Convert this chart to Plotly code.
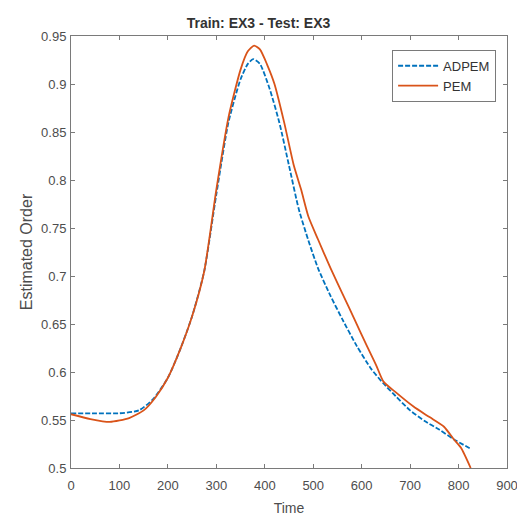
import plotly.graph_objects as go

# ADPEM series
t_adpem = [0, 50, 100, 140, 170, 200, 225, 250, 275, 300, 325, 350, 365, 376, 390, 410,
           430, 450, 470, 490, 510, 535, 560, 590, 620, 645, 670, 700, 730, 760, 790, 825]
v_adpem = [0.557, 0.557, 0.557, 0.560, 0.572, 0.594, 0.623, 0.658, 0.705, 0.785, 0.86, 0.905,
           0.921, 0.926, 0.921, 0.895, 0.86, 0.815, 0.77, 0.737, 0.708, 0.68, 0.655, 0.627,
           0.603, 0.588, 0.575, 0.560, 0.549, 0.540, 0.530, 0.520]

# PEM series
t_pem = [0, 40, 80, 120, 150, 175, 200, 225, 250, 275, 300, 325, 350, 365, 378, 390, 405,
         420, 440, 460, 475, 490, 510, 535, 560, 585, 610, 630, 645, 670, 707, 740, 770, 790,
         805, 825]
v_pem = [0.556, 0.551, 0.548, 0.552, 0.560, 0.574, 0.594, 0.623, 0.658, 0.705, 0.79, 0.865,
         0.915, 0.934, 0.940, 0.936, 0.92, 0.90, 0.86, 0.815, 0.79, 0.762, 0.738, 0.709, 0.682,
         0.655, 0.628, 0.607, 0.590, 0.579, 0.564, 0.553, 0.543, 0.530, 0.521, 0.500]

x_ticks = [0, 100, 200, 300, 400, 500, 600, 700, 800, 900]
y_ticks = [0.5, 0.55, 0.6, 0.65, 0.7, 0.75, 0.8, 0.85, 0.9, 0.95]
y_tick_text = ["0.5", "0.55", "0.6", "0.65", "0.7", "0.75", "0.8", "0.85", "0.9", "0.95"]

fig = go.Figure()
fig.add_trace(go.Scatter(x=t_adpem, y=v_adpem, mode="lines", name="ADPEM",
                         line=dict(color="#0072BD", width=1.8, dash="5px,2px", shape="spline", smoothing=0.6)))
fig.add_trace(go.Scatter(x=t_pem, y=v_pem, mode="lines", name="PEM",
                         line=dict(color="#D95319", width=1.8, shape="spline", smoothing=0.6)))

font = "Liberation Sans, Arial, sans-serif"
axis_common = dict(showgrid=False, zeroline=False, showline=True, linecolor="#7a7a7a",
                   linewidth=1, mirror="ticks", ticks="inside", ticklen=4, tickcolor="#7a7a7a",
                   automargin=False, ticklabeloverflow="allow",
                   tickfont=dict(family=font, size=13, color="#4d4d4d"))

fig.update_layout(
    width=517, height=516,
    margin=dict(l=71, r=10, t=36, b=48),
    paper_bgcolor="white", plot_bgcolor="white",
    title=dict(text="<b>Train: EX3 - Test: EX3</b>", x=0.5, xanchor="center", y=0.955, yanchor="middle",
               font=dict(family=font, size=14, color="#333333")),
    xaxis=dict(range=[0, 900], tickvals=x_ticks, ticklabelstandoff=5,
               title=dict(text="Time", font=dict(family=font, size=14, color="#4d4d4d"), standoff=12),
               **axis_common),
    yaxis=dict(range=[0.5, 0.95], tickvals=y_ticks, ticktext=y_tick_text, ticklabelstandoff=1,
               title=dict(text="Estimated Order", font=dict(family=font, size=16, color="#4d4d4d"), standoff=4),
               **axis_common),
    legend=dict(x=0.975, y=0.968, xanchor="right", yanchor="top", bgcolor="white",
                bordercolor="#7a7a7a", borderwidth=1,
                font=dict(family=font, size=13, color="#333333"),
                tracegroupgap=0, itemwidth=40),
    showlegend=True,
)

fig.write_html("out.html")
